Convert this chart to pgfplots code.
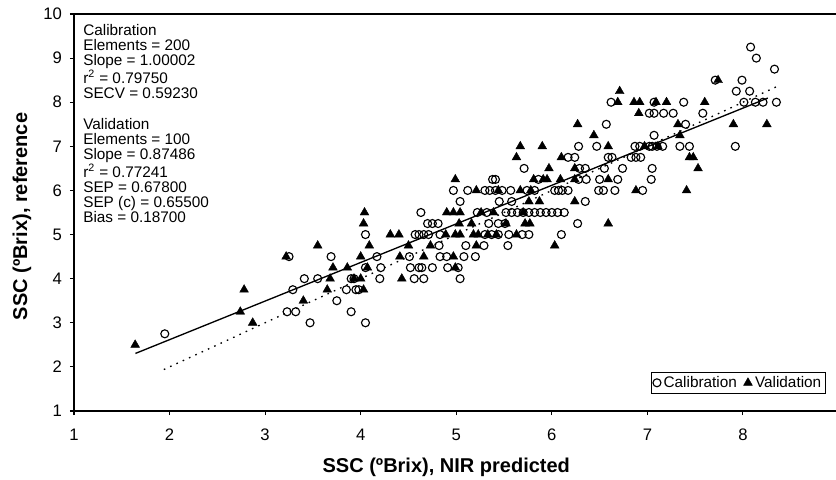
\documentclass[border=0pt]{standalone}
\usepackage{pgfplots}
\pgfplotsset{compat=1.18}
\usepackage{fontspec}
\setmainfont{Liberation Sans}
\begin{document}
\begin{tikzpicture}
\begin{axis}[name=ax,
  scale only axis, width=573.4pt, height=297.75pt,
  xmin=1, xmax=9, ymin=1, ymax=10,
  xtick={1,2,3,4,5,6,7,8}, ytick={1,2,3,4,5,6,7,8,9,10},
  xtick pos=left, ytick pos=left, tick align=outside,
  major tick length=3pt,
  every tick/.style={black, line width=0.8pt},
  axis line style={black, line width=0.9pt},
  /pgf/number format/assume math mode=true,
  ticklabel style={font=\fontsize{12.5}{14}\selectfont},
  xticklabel style={yshift=-7pt},
  yticklabel style={xshift=-2.5pt},
  every axis x label/.style={at={(axis description cs:0.487,-0.141)}, anchor=center},
  every axis y label/.style={at={(axis description cs:-0.068,0.49)}, anchor=center, rotate=90},
  label style={font=\fontsize{15}{17}\selectfont\bfseries},
  xlabel={SSC (ºBrix), NIR predicted},
  ylabel={SSC (ºBrix), reference},
  legend columns=2,
  legend style={at={(rel axis cs:0.9835,0.0428)}, anchor=south east, draw=black, line width=0.6pt,
    font=\fontsize{11.5}{13}\selectfont, inner sep=1.2pt, row sep=0pt,
    /tikz/every even column/.append style={column sep=3pt}},
  legend image code/.code={\draw[mark repeat=2,mark phase=2,#1] plot coordinates {(0cm,0cm)(0.13cm,0cm)(0.26cm,0cm)};},
  clip=false,
]
\addplot[only marks, mark=o, mark size=3pt, mark options={line width=0.85pt, black}] coordinates {
(1.95,2.75)
(3.47,3.0)(4.05,3.0)
(3.23,3.25)(3.32,3.25)(3.90,3.25)
(3.75,3.5)
(3.29,3.75)(3.85,3.75)(3.95,3.75)(3.98,3.75)
(3.41,4.0)(3.55,4.0)(3.90,4.0)(3.93,4.0)(4.20,4.0)(4.56,4.0)(4.66,4.0)(5.04,4.0)
(4.05,4.25)(4.21,4.25)(4.52,4.25)(4.61,4.25)(4.64,4.25)(4.75,4.25)(4.91,4.25)(5.02,4.25)
(3.25,4.5)(3.69,4.5)(4.17,4.5)(4.51,4.5)(4.83,4.5)(4.90,4.5)(5.08,4.5)(5.20,4.5)
(4.82,4.75)(5.10,4.75)(5.29,4.75)(5.54,4.75)
(4.05,5.0)(4.57,5.0)(4.61,5.0)(4.66,5.0)(4.71,5.0)(4.83,5.0)(5.30,5.0)(5.37,5.0)(5.44,5.0)(5.55,5.0)(5.69,5.0)(5.76,5.0)(6.10,5.0)
(4.70,5.25)(4.75,5.25)(4.81,5.25)(5.34,5.25)(5.44,5.25)(5.51,5.25)(6.27,5.25)
(4.63,5.5)(5.22,5.5)(5.32,5.5)(5.52,5.5)(5.58,5.5)(5.64,5.5)(5.70,5.5)(5.76,5.5)(5.82,5.5)(5.88,5.5)(5.94,5.5)(6.00,5.5)(6.06,5.5)(6.13,5.5)
(5.04,5.75)(5.45,5.75)(5.58,5.75)(6.35,5.75)
(4.97,6.0)(5.12,6.0)(5.30,6.0)(5.35,6.0)(5.41,6.0)(5.48,6.0)(5.57,6.0)(5.74,6.0)(5.82,6.0)(6.03,6.0)(6.07,6.0)(6.11,6.0)(6.17,6.0)(6.49,6.0)(6.54,6.0)(6.66,6.0)(6.95,6.0)
(5.38,6.25)(5.41,6.25)(5.86,6.25)(6.28,6.25)(6.36,6.25)(6.50,6.25)(6.69,6.25)(7.04,6.25)
(5.71,6.5)(6.29,6.5)(6.35,6.5)(6.55,6.5)(6.74,6.5)(7.05,6.5)
(6.17,6.75)(6.24,6.75)(6.59,6.75)(6.63,6.75)(6.83,6.75)(6.88,6.75)(6.93,6.75)
(6.28,7.0)(6.47,7.0)(6.87,7.0)(6.92,7.0)(7.02,7.0)(7.05,7.0)(7.10,7.0)(7.16,7.0)(7.34,7.0)(7.44,7.0)(7.92,7.0)
(7.07,7.25)
(6.57,7.5)(7.40,7.5)
(7.02,7.75)(7.07,7.75)(7.17,7.75)(7.27,7.75)(7.58,7.75)
(6.62,8.0)(7.07,8.0)(7.38,8.0)(8.01,8.0)(8.13,8.0)(8.21,8.0)(8.35,8.0)
(7.93,8.25)(8.07,8.25)
(7.71,8.5)(7.99,8.5)
(8.33,8.75)
(8.14,9.0)
(8.08,9.25)
};
\addlegendentry{Calibration}
\addplot[only marks, mark=triangle*, mark size=3.8pt, mark options={black, fill=black, line width=0.3pt}] coordinates {
(1.64,2.5)
(2.87,3.0)
(2.74,3.25)
(3.40,3.5)
(2.78,3.75)(3.65,3.75)(4.03,3.75)
(3.68,4.0)(3.93,4.0)(4.00,4.0)(4.43,4.0)
(3.71,4.25)(3.86,4.25)(4.07,4.25)(4.99,4.25)
(3.22,4.5)(4.00,4.5)(4.41,4.5)(4.66,4.5)(4.97,4.5)
(3.55,4.75)(4.09,4.75)(4.50,4.75)(4.73,4.75)(5.21,4.75)(6.03,4.75)
(4.31,5.0)(4.40,5.0)(4.89,5.0)(4.99,5.0)(5.04,5.0)(5.18,5.0)(5.23,5.0)(5.33,5.0)(5.42,5.0)(5.63,5.0)
(4.03,5.25)(5.03,5.25)(5.16,5.25)(5.52,5.25)(5.72,5.25)(5.77,5.25)(6.59,5.25)
(4.04,5.5)(4.90,5.5)(4.97,5.5)(5.04,5.5)(5.26,5.5)(5.39,5.5)(5.70,5.5)
(5.76,5.75)(5.87,5.75)(6.24,5.75)
(5.21,6.0)(5.44,6.0)(5.67,6.0)(5.78,6.0)(6.88,6.0)(7.41,6.0)
(4.99,6.25)(5.81,6.25)(5.91,6.25)(5.95,6.25)(6.09,6.25)(6.24,6.25)(6.59,6.25)
(5.97,6.5)(6.24,6.5)(7.53,6.5)
(5.63,6.75)(6.10,6.75)(7.44,6.75)(7.48,6.75)
(5.67,7.0)(5.90,7.0)(6.59,7.0)(6.97,7.0)(7.11,7.0)
(6.44,7.25)(7.34,7.25)
(6.27,7.5)(7.32,7.5)(7.90,7.5)(8.25,7.5)
(6.91,7.75)
(6.69,8.0)(6.86,8.0)(6.92,8.0)(7.09,8.0)(7.20,8.0)(7.60,8.0)
(6.71,8.25)
(7.74,8.5)
};
\addlegendentry{Validation}
\addplot[black, line width=1pt, forget plot] coordinates {(1.643,2.305)(8.26,8.094)};
\addplot[black, line width=1pt, dash pattern=on 1.2pt off 4pt, forget plot] coordinates {(1.94,1.94)(8.35,8.35)};
\node[anchor=north west, inner sep=0pt, align=left, font=\fontsize{11.5}{11.4}\selectfont]
  at (rel axis cs:0.0118,0.975) {Calibration\\Elements = 200\\Slope = 1.00002\\r$^{\mathrm{2}}$ = 0.79750\\SECV = 0.59230\\[11.4pt]Validation\\Elements = 100\\Slope = 0.87486\\r$^{\mathrm{2}}$ = 0.77241\\SEP = 0.67800\\SEP (c) = 0.65500\\Bias = 0.18700};
\end{axis}
\pgfresetboundingbox
\path[use as bounding box] ([xshift=-55.5pt,yshift=-51pt]ax.south west) rectangle ([xshift=571.5pt,yshift=308.25pt]ax.south west);
\end{tikzpicture}
\end{document}
